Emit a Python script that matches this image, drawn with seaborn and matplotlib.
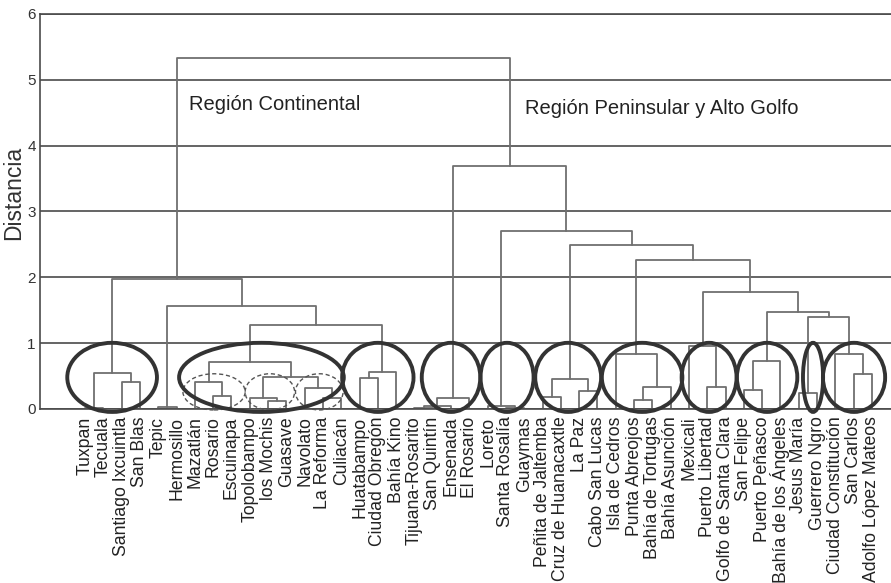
import pandas as pd
import seaborn as sns
import matplotlib.pyplot as plt
from matplotlib.patches import Ellipse

# hojas del dendrograma (orden de izquierda a derecha)
localidades = [
    "Tuxpan", "Tecuala", "Santiago Ixcuintla", "San Blas", "Tepic", "Hermosillo",
    "Mazatlán", "Rosario", "Escuinapa", "Topolobampo", "los Mochis", "Guasave",
    "Navolato", "La Reforma", "Culiacán", "Huatabampo", "Ciudad Obregón", "Bahía Kino",
    "Tijuana-Rosarito", "San Quintín", "Ensenada", "El Rosario", "Loreto",
    "Santa Rosalía", "Guaymas", "Peñita de Jaltemba", "Cruz de Huanacaxtle", "La Paz",
    "Cabo San Lucas", "Isla de Cedros", "Punta Abreojos", "Bahía de Tortugas",
    "Bahía Asunción", "Mexicali", "Puerto Libertad", "Golfo de Santa Clara",
    "San Felipe", "Puerto Peñasco", "Bahía de los Ángeles", "Jesus María",
    "Guerrero Ngro", "Ciudad Constitución", "San Carlos", "Adolfo López Mateos",
]

# uniones: (izquierda, derecha, distancia, nombre del grupo)
uniones = [
    ("Tuxpan", "Tecuala", 0.02, "c1"),
    ("Santiago Ixcuintla", "San Blas", 0.41, "c2"),
    ("c1", "c2", 0.54, "g1"),
    ("Tepic", "Hermosillo", 0.03, "g2"),
    ("Rosario", "Escuinapa", 0.20, "c3"),
    ("Mazatlán", "c3", 0.41, "c4"),
    ("los Mochis", "Guasave", 0.12, "c5"),
    ("Topolobampo", "c5", 0.17, "c6"),
    ("La Reforma", "Culiacán", 0.17, "c7"),
    ("Navolato", "c7", 0.32, "c8"),
    ("c6", "c8", 0.49, "c9"),
    ("c4", "c9", 0.72, "c10"),
    ("Huatabampo", "Ciudad Obregón", 0.47, "c11"),
    ("c11", "Bahía Kino", 0.56, "c12"),
    ("c10", "c12", 1.28, "c13"),
    ("g2", "c13", 1.57, "c14"),
    ("g1", "c14", 1.98, "continental"),
    ("Tijuana-Rosarito", "San Quintín", 0.02, "p1"),
    ("p1", "Ensenada", 0.05, "p2"),
    ("p2", "El Rosario", 0.17, "p3"),
    ("Santa Rosalía", "Guaymas", 0.02, "p4"),
    ("Loreto", "p4", 0.04, "p5"),
    ("Peñita de Jaltemba", "Cruz de Huanacaxtle", 0.18, "p6"),
    ("La Paz", "Cabo San Lucas", 0.28, "p7"),
    ("p6", "p7", 0.46, "p8"),
    ("Punta Abreojos", "Bahía de Tortugas", 0.14, "p9"),
    ("p9", "Bahía Asunción", 0.33, "p10"),
    ("Isla de Cedros", "p10", 0.83, "p11"),
    ("Puerto Libertad", "Golfo de Santa Clara", 0.34, "p12"),
    ("Mexicali", "p12", 0.95, "p13"),
    ("San Felipe", "Puerto Peñasco", 0.29, "p14"),
    ("p14", "Bahía de los Ángeles", 0.73, "p15"),
    ("Jesus María", "Guerrero Ngro", 0.25, "p16"),
    ("San Carlos", "Adolfo López Mateos", 0.53, "p17"),
    ("Ciudad Constitución", "p17", 0.84, "p18"),
    ("p16", "p18", 1.40, "p19"),
    ("p15", "p19", 1.47, "p20"),
    ("p13", "p20", 1.78, "p21"),
    ("p11", "p21", 2.27, "p22"),
    ("p8", "p22", 2.49, "p23"),
    ("p5", "p23", 2.70, "p24"),
    ("p3", "p24", 3.69, "peninsular"),
    ("continental", "peninsular", 5.33, "raiz"),
]

regiones = ["Región Continental", "Región Peninsular y Alto Golfo"]

# ---- geometria del arbol a partir de las uniones ----
pos = {n: i for i, n in enumerate(localidades)}
alt = {n: 0.0 for n in localidades}
filas = []
for k, (a, b, h, nombre) in enumerate(uniones):
    xa, xb = pos[a], pos[b]
    for orden, (x, y) in enumerate([(xa, alt[a]), (xa, h), (xb, h), (xb, alt[b])]):
        filas.append({"union": k, "orden": orden, "x": x, "y": y})
    pos[nombre] = (xa + xb) / 2
    alt[nombre] = h
segmentos = pd.DataFrame(filas)

sns.set_theme(style="white")
plt.rcParams['font.family'] = ['Liberation Sans', 'DejaVu Sans']
narrow = ['Liberation Sans Narrow', 'Liberation Sans', 'DejaVu Sans']

fig = plt.figure(figsize=(8.91, 5.83), dpi=100)
ax = fig.add_axes([0.0449, 0.2985, 0.9551, 0.6775])

ax.set_axisbelow(True)
ax.grid(axis="y", color="#4a4a4a", lw=1.2)
ax.grid(axis="x", visible=False)

sns.lineplot(data=segmentos, x="x", y="y", units="union", estimator=None, sort=False,
             color="#6f6f6f", lw=1.3, ax=ax, legend=False)

# elipses que marcan los grupos
gruesas = [(1.48, 4.9), (9.64, 9.0), (16.0, 3.9), (20.0, 3.2), (23.06, 2.9),
           (26.4, 3.6), (30.44, 4.4), (34.1, 3.0), (37.27, 3.3), (39.78, 1.1), (42.02, 3.4)]
for cx, w in gruesas:
    ax.add_patch(Ellipse((cx, 0.48), w, 1.05, fill=False, ec="#333333", lw=2.8, clip_on=False, zorder=4))
for cx, w in [(7.05, 3.4), (10.1, 2.7), (12.8, 2.6)]:
    ax.add_patch(Ellipse((cx, 0.26), w, 0.55, fill=False, ec="#555555", lw=1.0, ls=(0, (3, 2)),
                         clip_on=False, zorder=3))

ax.text(5.68, 4.62, regiones[0], ha="left", va="center", fontsize=14.5, family=narrow, color="#222222")
ax.text(24.04, 4.56, regiones[1], ha="left", va="center", fontsize=14.5, family=narrow, color="#222222")

ax.set_xlim(-2.46, 44.04)
ax.set_ylim(0, 6)
ax.set_xticks(range(len(localidades)))
ax.set_xticklabels(localidades, rotation=90, fontsize=12.7, color="#222222")
ax.set_yticks(range(7))
ax.set_yticklabels([str(i) for i in range(7)], fontsize=11, family=narrow, color="#333333")
ax.tick_params(axis="x", length=0, pad=5.5)
ax.tick_params(axis="y", length=0, pad=3)
ax.set_xlabel("")
ax.set_ylabel("Distancia", fontsize=16.5, color="#333333")
ax.yaxis.set_label_coords(-0.017, 0.547)

for lado in ["left", "bottom", "top"]:
    ax.spines[lado].set_visible(True)
    ax.spines[lado].set_color("#4a4a4a")
    ax.spines[lado].set_linewidth(1.2)
ax.spines["right"].set_visible(False)

fig.savefig("out.png", dpi=100)
